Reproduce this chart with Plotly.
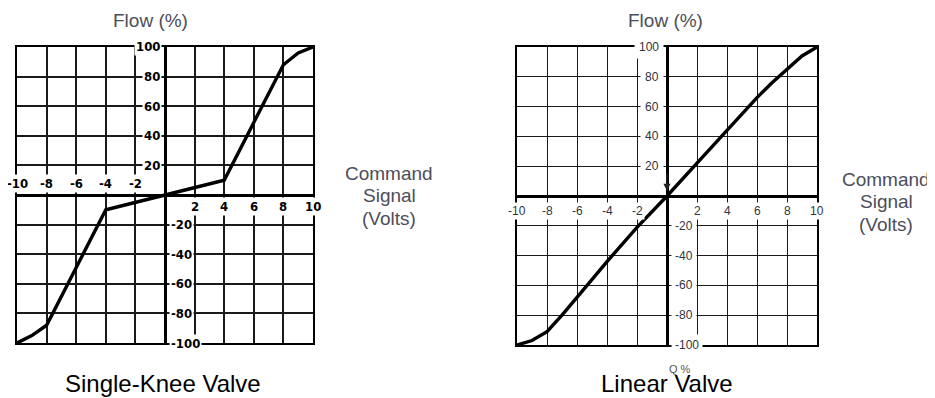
import plotly.graph_objects as go

# page body has an 8px margin, so the figure is sized to fill the rest of the window
OFF = 8
W, H = 935 - OFF, 398 - OFF

# single-knee valve curve (command volts -> flow %)
knee_x = [-10, -9, -8, -4, 0, 4, 8, 9, 10]
knee_y = [-100, -95, -88, -10, 0, 10, 88, 96, 100]

# linear valve curve
lin_x = [-10, -9, -8, -7, -6, -4, -2, 0, 2, 4, 6, 7, 8, 9, 10]
lin_y = [-100, -97, -91, -80, -68, -44, -21, 0, 22, 44, 66, 76, 85, 94, 100]

xticks_neg = [-10, -8, -6, -4, -2]
xticks_pos = [2, 4, 6, 8, 10]
yticks_pos = [20, 40, 60, 80, 100]
yticks_neg = [-20, -40, -60, -80, -100]

titles = ["Single-Knee Valve", "Linear Valve"]


def px(x):
    return (x - OFF) / W


def py(y):
    return 1 - (y - OFF) / H


fig = go.Figure()
fig.add_trace(go.Scatter(x=knee_x, y=knee_y, mode="lines", xaxis="x", yaxis="y",
                         line=dict(color="black", width=3.4), showlegend=False))
fig.add_trace(go.Scatter(x=lin_x, y=lin_y, mode="lines", xaxis="x2", yaxis="y2",
                         line=dict(color="black", width=3.4), showlegend=False))


def ax(dom, rng, dt, gw):
    return dict(domain=dom, range=rng, dtick=dt, tick0=0, showgrid=True, gridcolor="#1a1a1a",
                gridwidth=gw, zeroline=True, zerolinecolor="black", zerolinewidth=2.6,
                showline=True, mirror=True, linecolor="black", linewidth=2,
                showticklabels=False, ticks="", fixedrange=True)


fig.update_layout(
    width=W, height=H, margin=dict(l=0, r=0, t=0, b=0),
    paper_bgcolor="white", plot_bgcolor="white",
    xaxis=ax([px(17), px(313)], [-10, 10], 2, 1.8) | dict(anchor="y"),
    yaxis=ax([py(343), py(47)], [-100, 100], 20, 1.8) | dict(anchor="x"),
    xaxis2=ax([px(517), px(817)], [-10, 10], 2, 1.4) | dict(anchor="y2"),
    yaxis2=ax([py(345), py(47)], [-100, 100], 20, 1.4) | dict(anchor="x2"),
)

ann = []
lf = dict(family="Liberation Sans Narrow, DejaVu Sans Condensed, sans-serif", size=13,
          color="black", weight=600)
rf = dict(family="Liberation Sans, Arial, sans-serif", size=12, color="#333340")

# left chart tick labels
for v in xticks_neg:
    ann.append(dict(x=v, y=0, xref="x", yref="y", text=str(v), showarrow=False, font=lf,
                    bgcolor="white", borderpad=1, yshift=12))
for v in xticks_pos:
    ann.append(dict(x=v, y=0, xref="x", yref="y", text=str(v), showarrow=False, font=lf,
                    bgcolor="white", borderpad=1, yshift=-11))
for v in yticks_pos:
    ann.append(dict(x=0, y=v, xref="x", yref="y", text=str(v), showarrow=False, font=lf,
                    bgcolor="white", borderpad=1, xanchor="right", xshift=-3))
for v in yticks_neg:
    ann.append(dict(x=0, y=v, xref="x", yref="y", text=str(v), showarrow=False, font=lf,
                    bgcolor="white", borderpad=1, xanchor="left", xshift=4))

# right chart tick labels
for v in xticks_neg + xticks_pos:
    ann.append(dict(x=v, y=0, xref="x2", yref="y2", text=str(v), showarrow=False, font=rf,
                    bgcolor="white", borderpad=1, yshift=-15))
for v in yticks_pos:
    ann.append(dict(x=0, y=v, xref="x2", yref="y2", text=str(v), showarrow=False, font=rf,
                    bgcolor="white", borderpad=4, xanchor="right", xshift=-3))
for v in yticks_neg:
    ann.append(dict(x=0, y=v, xref="x2", yref="y2", text=str(v), showarrow=False, font=rf,
                    bgcolor="white", borderpad=3, xanchor="left", xshift=4))

# arrow to origin on linear chart
ann.append(dict(x=0, y=0, xref="x2", yref="y2", text="", showarrow=True, ax=0, ay=-24,
                arrowhead=2, arrowsize=1.1, arrowwidth=1.3, arrowcolor="#222", standoff=5))

tf = dict(family="Liberation Sans, Arial, sans-serif", size=19, color="#4d4d5a")
cf = dict(family="Liberation Sans, Arial, sans-serif", size=19, color="#4d4d5a")
bf = dict(family="Liberation Sans, Arial, sans-serif", size=24, color="black")

for xc, yc in [(150, 20), (665, 21)]:
    ann.append(dict(x=px(xc), y=py(yc), xref="paper", yref="paper", text="Flow (%)",
                    showarrow=False, font=tf, xanchor="center", yanchor="middle"))

for xc, y0 in [(389, 173), (886, 179)]:
    for i, line in enumerate(["Command", "Signal", "(Volts)"]):
        ann.append(dict(x=px(xc), y=py(y0 + i * 22.5), xref="paper", yref="paper",
                        text=line, showarrow=False, font=cf, xanchor="center", yanchor="middle"))

ann.append(dict(x=px(680), y=py(369), xref="paper", yref="paper", text="Q %", showarrow=False,
                font=dict(family="Liberation Sans, Arial, sans-serif", size=11, color="#555"),
                xanchor="center", yanchor="middle"))

for t, (xc, yc) in zip(titles, [(163, 383), (667, 383)]):
    ann.append(dict(x=px(xc), y=py(yc), xref="paper", yref="paper", text=t,
                    showarrow=False, font=bf, xanchor="center", yanchor="middle"))

fig.update_layout(annotations=ann)

fig.write_html("out.html")
